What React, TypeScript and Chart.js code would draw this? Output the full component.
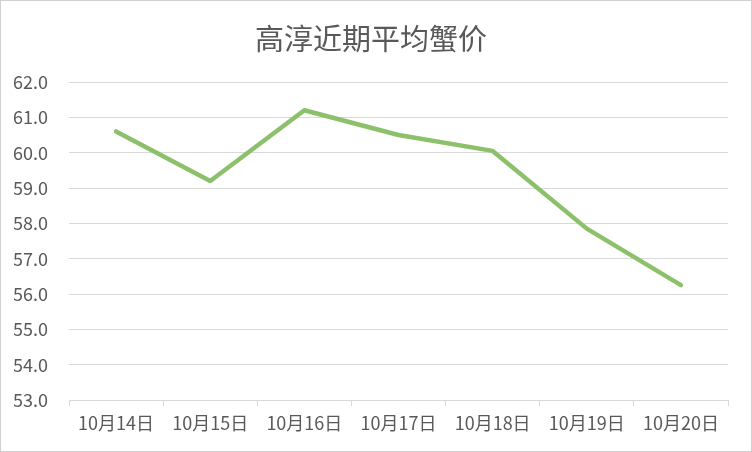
import React, { useEffect, useRef } from "react";
import { Chart, registerables } from "chart.js";

Chart.register(...registerables);

const categories = ["10月14日", "10月15日", "10月16日", "10月17日", "10月18日", "10月19日", "10月20日"];
const prices = [60.6, 59.2, 61.2, 60.5, 60.05, 57.85, 56.25];
const yMin = 53;
const yMax = 62;
const titleText = "高淳近期平均蟹价";

const FONT = "'Noto Sans CJK SC', 'Noto Sans', sans-serif";
const TEXT = "#595959";
const GRID = "#d9d9d9";

export default function App() {
  const ref = useRef<HTMLCanvasElement>(null);
  useEffect(() => {
    document.body.style.margin = "0";
    if (!ref.current) return;
    const chart = new Chart(ref.current, {
      type: "line",
      data: {
        labels: categories,
        datasets: [
          {
            data: prices,
            borderColor: "#8cc06a",
            borderWidth: 4.5,
            pointRadius: 0,
            tension: 0,
            fill: false,
            borderCapStyle: "round",
            borderJoinStyle: "round",
          },
        ],
      },
      options: {
        animation: false,
        responsive: false,
        layout: { padding: { left: 13, right: 23, top: 0, bottom: 11.4 } },
        plugins: {
          legend: { display: false },
          tooltip: { enabled: false },
          title: {
            display: true,
            text: titleText,
            color: TEXT,
            font: { family: FONT, size: 29, weight: "normal" },
            padding: { top: 20.6, bottom: 25.6 },
          },
        },
        scales: {
          x: {
            offset: true,
            grid: {
              offset: true,
              drawOnChartArea: false,
              drawTicks: true,
              tickLength: 6,
              color: GRID,
            },
            border: { display: true, color: GRID, width: 1 },
            ticks: {
              color: TEXT,
              font: { family: FONT, size: 18 },
              padding: 6,
              maxRotation: 0,
              autoSkip: false,
            },
          },
          y: {
            min: yMin,
            max: yMax,
            grid: { color: GRID, drawTicks: false },
            border: { display: false },
            afterFit: (scale: any) => {
              scale.width = 55;
            },
            ticks: {
              stepSize: 1,
              color: TEXT,
              font: { family: FONT, size: 18 },
              padding: 21,
              callback: (v: any) => Number(v).toFixed(1),
            },
          },
        },
      },
    });
    return () => chart.destroy();
  }, []);
  return (
    <div
      style={{
        width: 752,
        height: 452,
        border: "1px solid #d0d0d0",
        boxSizing: "border-box",
        background: "#fff",
      }}
    >
      <canvas ref={ref} width={750} height={450} style={{ display: "block" }} />
    </div>
  );
}
